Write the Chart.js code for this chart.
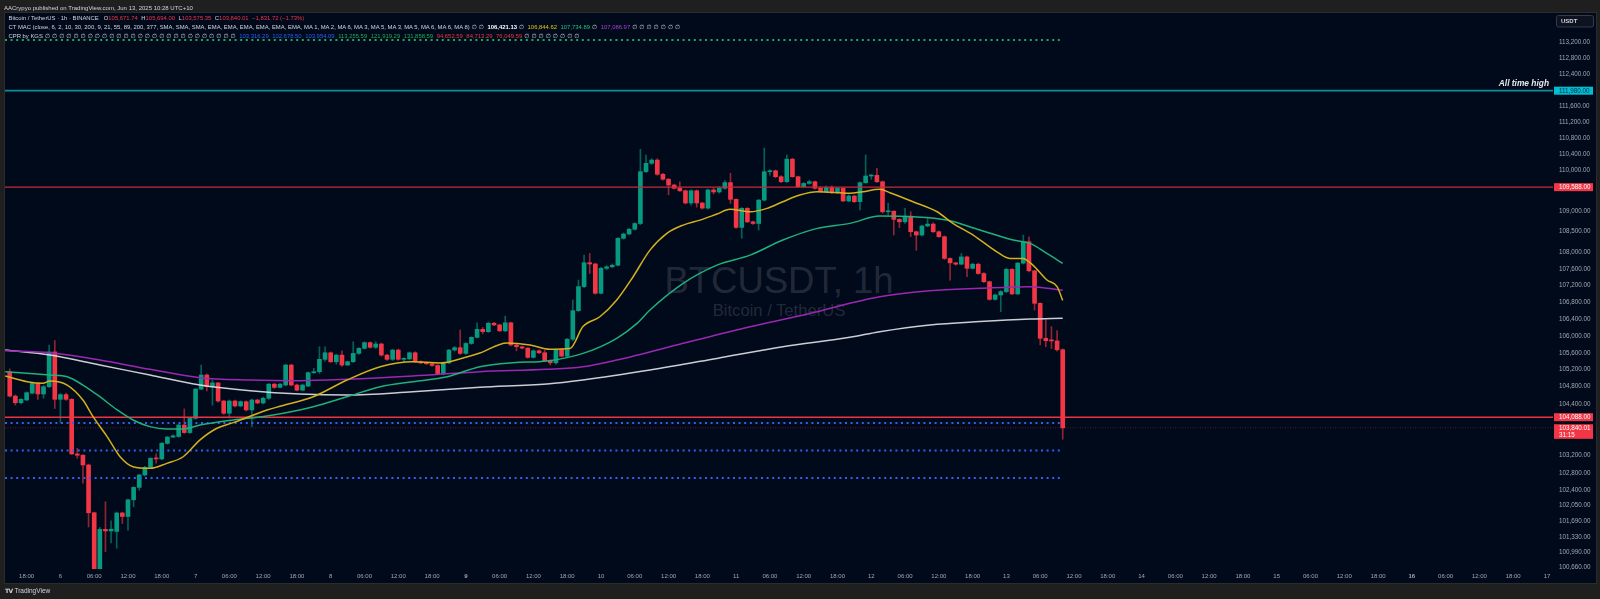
<!DOCTYPE html>
<html><head><meta charset="utf-8">
<script src="https://cdn.jsdelivr.net/npm/chart.js@4.4.0/dist/chart.umd.min.js"></script>
<style>
html,body{margin:0;padding:0;}
body{width:1600px;height:599px;overflow:hidden;position:relative;background:#1f1f1f;font-family:"Liberation Sans",Arial,sans-serif;}
#pane{position:absolute;left:4px;top:12px;width:1593px;height:572px;background:#010a1b;border:1px solid #2c2c2c;box-sizing:border-box;}
.wm{position:absolute;transform:translateX(-50%);white-space:nowrap;color:rgba(255,255,255,0.14);font-family:"Liberation Sans",Arial,sans-serif;}
#c{position:absolute;left:0;top:0;}
.t{position:absolute;white-space:nowrap;color:#d1d4dc;line-height:1;font-family:"Liberation Sans",Arial,sans-serif;z-index:5;}
.lg{left:8.5px;font-size:5.9px;}
.lg span{margin-left:3.5px;}
.lg span.e{margin-left:2px;font-family:"DejaVu Sans",sans-serif;}
.r{color:#f23645;}
.n{margin-left:0 !important;}
.y{color:#e8c51c;} .gr{color:#22c07a;} .p{color:#b33fd6;} .w{color:#ffffff;font-weight:bold;}
.b{color:#2962ff;} .g2{color:#22ab57;}
</style>
</head><body>
<div id="pane"></div>
<div class="wm" style="left:779px;top:262.8px;font-size:36.5px;line-height:36.5px;">BTCUSDT, 1h</div>
<div class="wm" style="left:779px;top:302.6px;font-size:16.6px;line-height:16.6px;">Bitcoin / TetherUS</div>
<canvas id="c" width="1600" height="599"></canvas>
<div class="t" style="left:4px;top:4.5px;font-size:6px;">AACrypyo published on TradingView.com, Jun 13, 2025 10:28 UTC+10</div>
<div class="t lg" style="top:16.1px;">Bitcoin / TetherUS · 1h · BINANCE<span style="margin-left:5px">O<span class="r n">105,671.74</span></span><span>H<span class="r n">105,694.00</span></span><span>L<span class="r n">103,575.35</span></span><span>C<span class="r n">103,840.01</span></span><span class="r">−1,831.72 (−1.73%)</span></div>
<div class="t lg" style="top:24.9px;">CT MAC (close, 6, 2, 10, 30, 200, 9, 21, 55, 89, 200, 377, SMA, SMA, SMA, EMA, EMA, EMA, EMA, EMA, EMA, MA 1, MA 2, MA 6, MA 3, MA 5, MA 3, MA 5, MA 6, MA 6, MA 8)<span class="e">∅</span><span class="e">∅</span><span class="w">106,421.13</span><span class="e">∅</span><span class="y">106,844.62</span><span class="gr">107,734.89</span><span class="e">∅</span><span class="p">107,086.97</span><span class="e">∅</span><span class="e">∅</span><span class="e">∅</span><span class="e">∅</span><span class="e">∅</span><span class="e">∅</span><span class="e">∅</span></div>
<div class="t lg" style="top:33.9px;">CPR by KGS<span class="e">∅</span><span class="e">∅</span><span class="e">∅</span><span class="e">∅</span><span class="e">∅</span><span class="e">∅</span><span class="e">∅</span><span class="e">∅</span><span class="e">∅</span><span class="e">∅</span><span class="e">∅</span><span class="e">∅</span><span class="e">∅</span><span class="e">∅</span><span class="e">∅</span><span class="e">∅</span><span class="e">∅</span><span class="e">∅</span><span class="e">∅</span><span class="e">∅</span><span class="e">∅</span><span class="e">∅</span><span class="e">∅</span><span class="e">∅</span><span class="e">∅</span><span class="e">∅</span><span class="e">∅</span><span class="b">103,316.29</span><span class="b">102,678.50</span><span class="b">103,954.09</span><span class="g2">113,255.59</span><span class="g2">121,919.29</span><span class="g2">131,858.59</span><span class="r">94,652.59</span><span class="r">84,713.29</span><span class="r">76,049.59</span><span class="e">∅</span><span class="e">∅</span><span class="e">∅</span><span class="e">∅</span><span class="e">∅</span><span class="e">∅</span><span class="e">∅</span><span class="e">∅</span></div>
<div class="t" style="left:5px;top:588px;font-size:6.5px;"><b style="font-family:'DejaVu Sans';font-size:6px;letter-spacing:-0.5px">TV</b> TradingView</div>
<script>
// ---- time: hours relative to Jun 6 2025 00:00 (UTC+10); first candle Jun 5 15:00 ----
const firstCandleHour = -9;
const opens = [105150,104580,104425,104490,104650,104880,104630,104800,105620,104505,104615,104505,103235,103205,102980,101885,100500,101507,101470,101460,101880,101800,102180,102465,102750,102925,103135,103120,103480,103625,103640,103905,103730,104060,104745,105075,104800,104890,104465,104180,104465,104350,104450,104257,104489,104420,104530,104860,104785,104840,105310,104840,104720,104815,105130,105153,105445,105600,105387,105545,105310,105390,105585,105703,105840,105730,105808,105545,105445,105664,105445,105455,105600,105390,105360,105340,105300,105100,105360,105664,105720,105585,105820,105965,106155,106100,106300,106260,106120,106310,105784,105742,105710,105491,105647,105600,105410,105363,105678,105520,105920,106600,107175,107750,107720,107016,107615,107652,107690,108340,108445,108560,108700,109968,110175,110255,109905,109783,109640,109560,109500,109200,109500,109200,109075,109520,109470,109560,109700,109290,108605,109070,108740,108700,109270,109968,109990,109845,109722,110277,109845,109600,109680,109722,109560,109477,109585,109453,109560,109250,109371,109232,109698,109862,109880,109722,108986,109000,108800,108741,108880,108500,108420,108640,108686,108500,108380,107853,107747,107715,107890,107615,107715,107490,107294,106870,106975,107055,107590,107000,107740,108257,107555,106775,105943,105885,105880,105671.74];
const highs = [105220,104610,104520,104680,104900,104900,104830,105780,105890,104640,104650,104520,103365,103220,103000,101900,101550,102135,101700,101900,101900,102200,102480,102770,102950,103150,103235,103500,103640,103680,103930,104280,104080,104760,105310,105100,104950,104900,104480,104490,104490,104470,104470,104510,104510,104560,104880,104880,104880,105330,105330,104860,104860,105150,105232,105742,105740,105620,105560,105647,105400,105860,105720,105860,105860,105860,105830,105560,105680,105690,105480,105620,105620,105410,105380,105360,105320,105380,105680,105750,106140,105840,105980,106310,106200,106330,106320,106280,106470,106330,105800,105760,105720,105670,105670,105660,105430,105700,105700,105940,106855,107332,107933,107973,107740,107640,107680,107720,108360,108470,108580,108720,110520,110380,110290,110290,109930,109800,109660,109720,109520,109520,109520,109220,109540,109560,109600,109750,109930,109300,109090,109090,108760,109290,110550,110020,110010,109870,110380,110300,109860,109700,109760,109740,109600,109620,109620,109580,109580,109400,109390,109720,110380,109900,110050,109740,109200,109010,108820,109070,108990,108520,108660,108825,108720,108520,108400,107870,107760,107973,107910,107740,107740,107510,107310,107000,107080,107620,107610,107760,108420,108378,107570,106790,106380,106220,106125,105694];
const lows = [104560,104370,104400,104470,104630,104500,104530,104780,104290,103950,104480,103220,103135,102560,101560,100372,100450,101000,101200,101080,101640,101490,102020,102400,102730,102900,103020,103100,103460,103610,103620,103710,103710,104040,104730,104700,104370,104440,104150,104070,104330,104330,104230,103870,104400,104400,104500,104760,104770,104820,104820,104700,104700,104800,105110,105110,105400,105370,105330,105280,105300,105370,105560,105690,105710,105700,105520,105420,105420,105420,105380,105430,105370,105340,105320,105280,105080,105080,105340,105640,105560,105560,105800,105950,106050,106080,106240,106100,106100,105760,105647,105690,105470,105470,105580,105390,105310,105330,105500,105500,105880,106580,107150,107490,106990,107000,107580,107630,107670,108320,108420,108540,108670,109950,110150,109880,109760,109400,109540,109480,109180,109150,109100,109050,109050,109420,109440,109540,109190,108580,108340,108720,108680,108540,109250,109880,109820,109700,109700,109830,109580,109580,109660,109540,109460,109460,109430,109430,109230,109230,109210,109030,109680,109780,109700,108950,108900,108420,108600,108700,108380,108050,108400,108620,108480,108360,107830,107330,107690,107700,107414,107600,107470,107270,106850,106850,106575,107030,106980,106980,107720,107530,106615,105784,105742,105700,105640,103575.35];
const closes = [104580,104425,104505,104660,104880,104630,104800,105620,104505,104615,104505,103235,103205,102980,101885,100500,101507,101470,101510,101880,101800,102180,102465,102750,102925,103135,103120,103480,103625,103655,103905,103730,104060,104745,105075,104800,104890,104465,104180,104465,104350,104450,104257,104489,104420,104530,104860,104785,104860,105310,104840,104720,104840,105130,105153,105445,105600,105387,105545,105310,105390,105585,105703,105840,105730,105808,105545,105445,105664,105445,105455,105600,105390,105360,105340,105300,105100,105360,105664,105720,105585,105820,105965,106155,106100,106300,106260,106120,106310,105784,105742,105710,105491,105647,105600,105410,105363,105678,105520,105920,106600,107175,107750,107720,107016,107615,107652,107690,108340,108445,108560,108700,109968,110175,110255,109905,109783,109640,109560,109500,109200,109500,109200,109075,109520,109470,109560,109700,109290,108605,109070,108740,108700,109270,109968,109990,109845,109722,110277,109845,109600,109680,109722,109560,109477,109585,109453,109560,109250,109371,109232,109698,109862,109880,109722,108986,109000,108800,108741,108880,108500,108420,108640,108686,108500,108380,107853,107747,107715,107890,107615,107715,107490,107294,106870,106975,107055,107590,107000,107740,108257,107555,106775,105943,105885,105880,105671.73,103840.01];

// ---- moving-average lines (hour, value) ----
const yellowHours = [-9.8,-5.9,-3.1,-1.85,1.2,4.0,5.8,8.3,10.6,12.9,15.9,18.9,21.8,24.8,27.8,30.7,36.7,39.2,44.9,50.9,56.8,62.6,67.4,71.5,74.5,79.3,83.4,86.9,90.5,92.8,95.8,98.8,101.7,104.7,107.7,110.6,113.6,116.6,118.9,122.5,125.5,128.3,131.3,134.4,140.2,142.5,145.5,147.3,151.4,155.7,158.5,162.1,166.3,168.6,170.9,172.7,175.2,177,178];
const yellowValues = [105052,104918,104880,104935,104840,104489,104100,103637,103170,102940,102903,103018,103170,103561,103831,103961,104256,104349,104566,104958,105271,105388,105358,105475,105593,105831,105783,105681,105700,106220,106455,106855,107413,108054,108461,108662,108783,108930,109045,108986,109069,109232,109395,109477,109437,109476,109535,109452,109232,108986,108703,108419,108012,107854,107854,107693,107334,107174,106844.62];
const greenHours = [-9.8,-1.85,1.2,4.0,7.0,10.1,12.9,15.9,18.9,21.8,24.8,30.7,36.7,42.5,44.9,50.9,56.8,62.6,68.7,74.5,80.4,86.4,92.8,98.8,102.4,104.7,110.6,116.6,122.5,128.3,134.4,140.2,145.5,151.4,157.4,163.3,169.2,172.2,175.2,178];
const greenValues = [105153,105075,105035,104840,104566,104256,104023,103868,103815,103815,103907,104023,104116,104256,104333,104566,104800,104918,105035,105271,105365,105405,105585,105943,106298,106617,107255,107693,107933,108298,108582,108703,108880,108864,108783,108541,108298,108217,107974,107734.89];
const purpleHours = [-9.8,-1.85,7.0,15.9,24.8,33.7,42.5,50.9,62.6,74.5,86.4,92.8,98.8,110.6,122.5,134.4,140.2,145.5,154.4,163.3,172.2,178];
const purpleValues = [105647,105600,105428,105209,105012,104958,104941,104974,105052,105153,105209,105270,105428,105824,106218,106575,106776,106934,107078,107135,107174,107086.97];
const whiteHours = [-9.8,-1.85,7.0,15.9,24.8,33.7,42.5,50.9,62.6,74.5,86.4,92.8,104.7,116.6,128.3,140.2,145.5,154.4,163.3,172.2,178];
const whiteValues = [105664,105545,105310,105075,104840,104707,104630,104605,104683,104786,104864,104958,105193,105467,105743,105967,106100,106260,106340,106400,106421.13];

// ---- levels ----
const allTimeHigh = 111980;
const resistanceLevel = 109588;
const supportLevel = 104088;
const lastPrice = 103840.01;
const candleCountdown = '31:15';
const cprBlueLevels = [103954.09, 103316.29, 102678.50];
const cprGreenLevel = 113255.59;

// ---- axes ----
const priceTicks = [113200,112800,112400,111600,111200,110800,110400,110000,109000,108500,108000,107600,107200,106800,106400,106000,105600,105200,104800,104400,103200,102800,102400,102050,101690,101330,100990,100660];
const timeTickLabels = ['18:00','6','06:00','12:00','18:00','7','06:00','12:00','18:00','8','06:00','12:00','18:00','9','06:00','12:00','18:00','10','06:00','12:00','18:00','11','06:00','12:00','18:00','12','06:00','12:00','18:00','13','06:00','12:00','18:00','14','06:00','12:00','18:00','15','06:00','12:00','18:00','16','06:00','12:00','18:00','17'];
const boldTimeLabels = ['9','16'];
const firstTickHour = -6, tickStepHours = 6;
const xMin = -9.84, xMax = 265.07;
const yMin = 100610, yMax = 113945;

const FONT = '"Liberation Sans", Arial, sans-serif';
const upColor = '#089981', downColor = '#f23645';
const wickUp = 'rgba(8,153,129,0.6)', wickDown = 'rgba(242,54,69,0.6)';
const hours = opens.map((_, i) => firstCandleHour + i);
const isUp = i => closes[i] >= opens[i];
const fmt = v => v.toLocaleString('en-US', {minimumFractionDigits: 2, maximumFractionDigits: 2});

function maLine(hs, vs, color, order) {
  return {type: 'line', data: hs.map((h, i) => ({x: h, y: vs[i]})), borderColor: color, borderWidth: 1.5,
    pointRadius: 0, cubicInterpolationMode: 'monotone', order};
}
function level(value, from, to, color, width, dash, order) {
  return {type: 'line', data: [{x: from, y: value}, {x: to, y: value}], borderColor: color, borderWidth: width,
    borderDash: dash, borderCapStyle: 'butt', pointRadius: 0, tension: 0, order};
}
const lastHour = hours[hours.length - 1];

const overlay = {
  id: 'overlay',
  afterDraw(chart) {
    const {ctx, chartArea} = chart;
    const y = chart.scales.y;
    ctx.save();
    const yA = y.getPixelForValue(allTimeHigh);
    ctx.font = 'italic bold 8.4px ' + FONT;
    ctx.fillStyle = '#e6e8ee';
    ctx.textAlign = 'right';
    ctx.textBaseline = 'alphabetic';
    ctx.fillText('All time high', chartArea.right - 4, yA - 4.6);
    const bx = chartArea.right + 1, bw = 39;
    ctx.textAlign = 'left';
    ctx.textBaseline = 'middle';
    ctx.font = '6.3px ' + FONT;
    const tags = [
      {v: allTimeHigh, bg: '#00bcd4', fg: '#0b2a33'},
      {v: resistanceLevel, bg: '#f23645', fg: '#ffffff'},
      {v: supportLevel, bg: '#f23645', fg: '#ffffff'}
    ];
    tags.forEach(t => {
      const py = y.getPixelForValue(t.v);
      ctx.fillStyle = t.bg;
      ctx.fillRect(bx, py - 4, bw, 8);
      ctx.fillStyle = t.fg;
      ctx.fillText(fmt(t.v), bx + 5, py + 0.3);
    });
    const pl = y.getPixelForValue(lastPrice);
    ctx.fillStyle = '#f23645';
    ctx.fillRect(bx, pl - 3.6, bw, 14.6);
    ctx.fillStyle = '#ffffff';
    ctx.fillText(fmt(lastPrice), bx + 5, pl + 0.4);
    ctx.fillText(candleCountdown, bx + 5, pl + 7.3);
    ctx.fillStyle = '#0d1320';
    ctx.strokeStyle = '#363a45';
    ctx.lineWidth = 1;
    ctx.beginPath();
    ctx.roundRect(1556.5, 15.5, 37, 11.5, 2);
    ctx.fill(); ctx.stroke();
    ctx.fillStyle = '#d1d4dc';
    ctx.font = 'bold 6px ' + FONT;
    ctx.fillText('USDT', 1561, 21.3);
    ctx.restore();
  }
};

new Chart(document.getElementById('c'), {
  type: 'bar',
  data: {
    datasets: [
      maLine(yellowHours, yellowValues, '#d6b01c', 1),
      maLine(greenHours, greenValues, '#21b07b', 1),
      maLine(purpleHours, purpleValues, '#9c27b0', 1),
      maLine(whiteHours, whiteValues, 'rgba(225,226,232,0.9)', 1),
      level(allTimeHigh, xMin, xMax, '#0e8c9d', 1.8, [], 2),
      level(resistanceLevel, xMin, xMax, '#c42b3d', 1.3, [], 2),
      level(supportLevel, xMin, xMax, '#ee3344', 1.4, [], 2),
      level(cprGreenLevel, xMin, lastHour, '#23a85a', 2, [2, 3.6], 2),
      ...cprBlueLevels.map(v => level(v, xMin, lastHour, '#2f62f0', 2, [2, 3.6], 2)),
      level(lastPrice, xMin, xMax, 'rgba(242,54,69,0.35)', 1, [1, 1.5], 7),
      {type: 'bar', data: hours.map((h, i) => ({x: h, y: [opens[i], closes[i]]})),
        backgroundColor: c => isUp(c.dataIndex) ? upColor : downColor,
        barThickness: 4, grouped: false, minBarLength: 1, order: 5},
      {type: 'bar', data: hours.map((h, i) => ({x: h, y: [lows[i], highs[i]]})),
        backgroundColor: c => isUp(c.dataIndex) ? wickUp : wickDown,
        barThickness: 1, grouped: false, order: 6}
    ]
  },
  options: {
    responsive: false,
    animation: false,
    events: [],
    layout: {padding: {left: 5, top: 13, right: 0, bottom: 0}},
    plugins: {legend: {display: false}, tooltip: {enabled: false}, title: {display: false}},
    scales: {
      x: {
        type: 'linear', min: xMin, max: xMax, bounds: 'data', offset: false,
        grid: {display: false, drawTicks: false}, border: {display: false},
        afterBuildTicks: s => { s.ticks = timeTickLabels.map((_, i) => ({value: firstTickHour + i * tickStepHours})); },
        afterFit: s => { s.height = 30; },
        ticks: {
          autoSkip: false, maxRotation: 0, minRotation: 0, padding: 4, color: '#a3a6af',
          font: c => ({family: FONT, size: 6, weight: (c.tick && boldTimeLabels.includes(c.tick.label)) ? 'bold' : 'normal'}),
          callback: (v, i) => timeTickLabels[i]
        }
      },
      y: {
        type: 'logarithmic', position: 'right', min: yMin, max: yMax, bounds: 'data',
        grid: {display: false, drawTicks: false}, border: {display: false},
        afterBuildTicks: s => { s.ticks = priceTicks.map(v => ({value: v})); },
        afterFit: s => { s.width = 47; },
        ticks: {autoSkip: false, padding: 6, color: '#a3a6af', font: {family: FONT, size: 6.3}, callback: v => fmt(v)}
      }
    }
  },
  plugins: [overlay]
});
</script>
</body></html>
